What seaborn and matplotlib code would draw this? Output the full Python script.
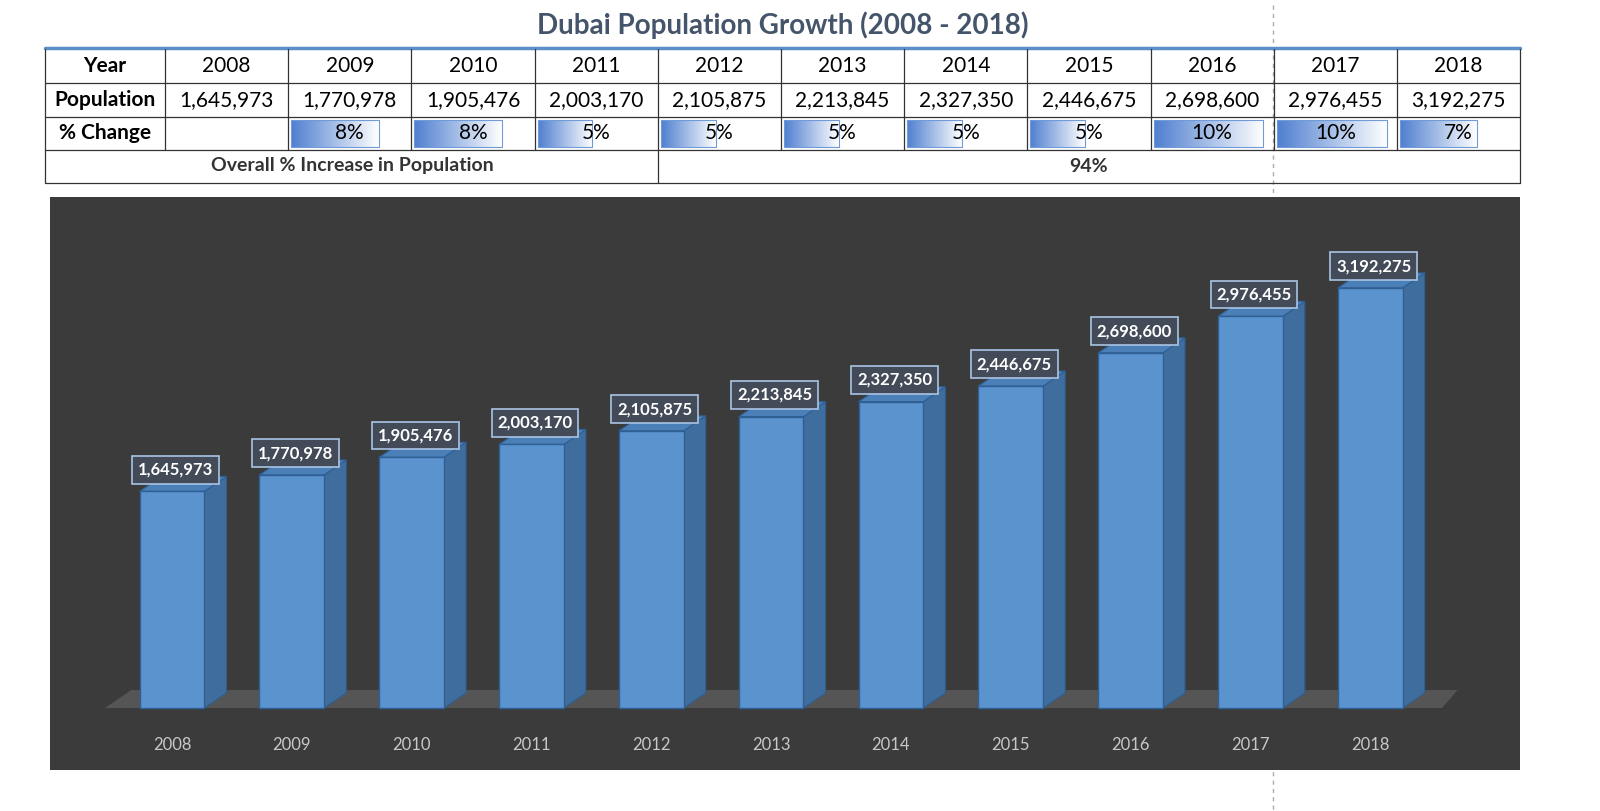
import matplotlib.pyplot as plt
from matplotlib.patches import Polygon, Rectangle
import seaborn as sns
import numpy as np
import pandas as pd

years = ["2008", "2009", "2010", "2011", "2012", "2013", "2014", "2015", "2016", "2017", "2018"]
population = [1645973, 1770978, 1905476, 2003170, 2105875, 2213845, 2327350, 2446675, 2698600, 2976455, 3192275]
pct_change = [None, 8, 8, 5, 5, 5, 5, 5, 10, 10, 7]
overall_pct = "94%"

sns.set_theme(style="white")
plt.rcParams['font.family'] = ['Lato', 'DejaVu Sans']

fig = plt.figure(figsize=(16, 8.11), dpi=100)
fig.patch.set_facecolor("white")

# full-figure axis in pixel coordinates for title and table
ft = fig.add_axes([0, 0, 1, 1])
ft.set_xlim(0, 1600)
ft.set_ylim(811, 0)
ft.axis("off")

ft.text(783, 25, "Dubai Population Growth (2008 - 2018)", ha="center", va="center",
        fontsize=20, fontweight="bold", color="#44546a")

col_x = [45, 165] + [165 + 123.2 * (i + 1) for i in range(11)]
row_y = [49, 83, 117, 150, 183]
grid_col = "#333333"
ft.plot([45, 1520], [48, 48], color="#5b8fc7", lw=2.5)
for y in row_y[1:]:
    ft.plot([45, 1520], [y, y], color=grid_col, lw=0.9)
for i, x in enumerate(col_x):
    ft.plot([x, x], [49, 150], color=grid_col, lw=0.9)
for x in [45, 658, 1520]:
    ft.plot([x, x], [150, 183], color=grid_col, lw=0.9)

fs = 15
ft.text(105, 66, "Year", ha="center", va="center", fontsize=fs, fontweight="bold", color="black")
ft.text(105, 100, "Population", ha="center", va="center", fontsize=fs, fontweight="bold", color="black")
ft.text(105, 133, "% Change", ha="center", va="center", fontsize=fs, fontweight="bold", color="black")
grad = np.linspace(0, 1, 256).reshape(1, -1)
cmap = sns.blend_palette(["#4f7fd0", "#ffffff"], as_cmap=True)
for i, yr in enumerate(years):
    cx = (col_x[i + 1] + col_x[i + 2]) / 2
    ft.text(cx, 66, yr, ha="center", va="center", fontsize=fs, color="black")
    ft.text(cx, 100, f"{population[i]:,}", ha="center", va="center", fontsize=fs, color="black")
    if pct_change[i] is not None:
        x0 = col_x[i + 1] + 3
        w = (col_x[i + 2] - col_x[i + 1] - 8) * pct_change[i] / 10.5
        ft.imshow(grad, cmap=cmap, aspect="auto", extent=(x0, x0 + w, 147, 120), zorder=1)
        ft.add_patch(Rectangle((x0, 120), w, 27, fill=False, ec="#6f9bd8", lw=0.8, zorder=2))
        ft.text(cx, 133, f"{pct_change[i]}%", ha="center", va="center", fontsize=fs, color="black", zorder=3)
ft.text(352, 166, "Overall % Increase in Population", ha="center", va="center",
        fontsize=14, fontweight="bold", color="#333333")
ft.text(1089, 166, overall_pct, ha="center", va="center", fontsize=14, fontweight="bold", color="#333333")
ft.plot([1273, 1273], [5, 811], color="#aaaaaa", lw=1, ls=(0, (3, 3)), zorder=0)
ft.set_xlim(0, 1600)
ft.set_ylim(811, 0)

# chart
ax = fig.add_axes([50 / 1600, 41 / 811, 1470 / 1600, 573 / 811])
ax.set_facecolor("#3b3b3b")
df = pd.DataFrame({"year": years, "population": population})
bw = 0.54
sns.barplot(data=df, x="year", y="population", color="#5b93cf", width=bw,
            saturation=1, edgecolor="#2f5f93", linewidth=1, ax=ax, zorder=3)
ax.set_xlim(-1.018, 11.25)
ax.set_ylim(-471000, 3883000)
dx, dy = 0.184, 114000

# floor
ax.add_patch(Polygon([(-0.56, 0), (10.6, 0), (10.6 + dx * 0.7, dy * 1.2), (-0.56 + dx * 1.2, dy * 1.2)],
                     closed=True, fc="#555555", ec="none", zorder=1))
for i, v in enumerate(population):
    r = i + bw / 2
    l = i - bw / 2
    ax.add_patch(Polygon([(r, 0), (r + dx, dy), (r + dx, v + dy), (r, v)], closed=True,
                         fc="#3f6d9e", ec="#2f5f93", lw=0.8, zorder=2))
    ax.add_patch(Polygon([(l, v), (r, v), (r + dx, v + dy), (l + dx, v + dy)], closed=True,
                         fc="#4a7fb8", ec="#2f5f93", lw=0.8, zorder=2))
    ax.text(i + 0.03, v + 165000, f"{v:,}", ha="center", va="center", fontsize=12,
            fontweight="bold", color="white", zorder=5,
            bbox=dict(boxstyle="square,pad=0.35", fc="#424b57", ec="#a9c4e4", lw=1.2))

ax.set_xlabel("")
ax.set_ylabel("")
ax.set_yticks([])
ax.tick_params(axis="x", length=0, labelsize=12, labelcolor="#c8c8c8", pad=-24)
for s in ax.spines.values():
    s.set_visible(False)

fig.savefig("out.png", dpi=100, facecolor="white")
